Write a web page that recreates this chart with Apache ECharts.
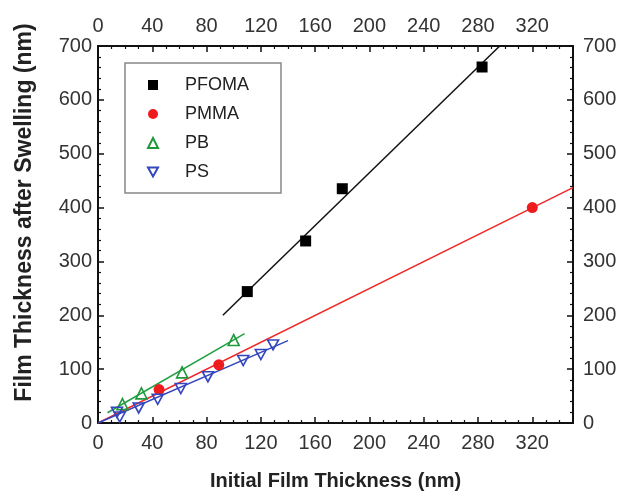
<!DOCTYPE html>
<html>
<head>
<meta charset="utf-8">
<script src="https://cdn.jsdelivr.net/npm/echarts@6/dist/echarts.min.js"></script>
<style>
html,body{margin:0;padding:0;background:#fff;}
#chart{width:621px;height:496px;}
</style>
</head>
<body>
<div id="chart"></div>
<script>
// ---- data ----
const seriesNames = ['PFOMA', 'PMMA', 'PB', 'PS'];
const pfomaX = [110, 153, 180, 283];
const pfomaY = [244, 338, 435, 661];
const pmmaX = [45, 89, 320];
const pmmaY = [62, 108, 400];
const pbX = [18, 32, 62, 100];
const pbY = [35, 55, 94, 154];
const psX = [14, 16, 30, 44, 61, 81, 107, 120, 129];
const psY = [20, 11, 28, 44, 64, 86, 116, 127, 145];
// fitted lines (end points)
const pfomaFitX = [92, 296];
const pfomaFitY = [200, 700];
const pmmaFitX = [0, 350];
const pmmaFitY = [0, 437];
const pbFitX = [7, 108];
const pbFitY = [19, 166];
const psFitX = [0, 140];
const psFitY = [0, 153];
const xTicks = [0, 40, 80, 120, 160, 200, 240, 280, 320];
const yTicks = [0, 100, 200, 300, 400, 500, 600, 700];

const zip = (xs, ys) => xs.map((x, i) => [x, ys[i]]);
const FONT = 'Arial, "Liberation Sans", Helvetica, sans-serif';

const chart = echarts.init(document.getElementById('chart'), null, {renderer: 'canvas'});

function xAxisCfg(pos) {
  return {
    type: 'value', position: pos, min: 0, max: 350, interval: 40,
    name: pos === 'bottom' ? 'Initial Film Thickness (nm)' : '',
    nameLocation: 'middle', nameGap: 48,
    nameTextStyle: {fontFamily: FONT, fontWeight: 'bold', fontSize: 20, color: '#222'},
    axisLine: {show: true, onZero: false, lineStyle: {color: '#111', width: 2}},
    axisTick: {show: true, inside: true, length: 6, lineStyle: {color: '#111', width: 1.5}},
    minorTick: {show: true, splitNumber: 4, length: 3, lineStyle: {color: '#111', width: 1.2}},
    splitLine: {show: false},
    axisLabel: {
      fontFamily: FONT, fontSize: 20, color: '#333', margin: pos === 'bottom' ? 10 : 10,
      formatter: v => xTicks.indexOf(v) >= 0 ? String(v) : ''
    }
  };
}
function yAxisCfg(pos) {
  return {
    type: 'value', position: pos, min: 0, max: 700, interval: 100,
    name: pos === 'left' ? 'Film Thickness after Swelling (nm)' : '',
    nameLocation: 'middle', nameGap: 62,
    nameTextStyle: {fontFamily: FONT, fontWeight: 'bold', fontSize: 23, color: '#222', padding: [0, 0, 0, 44]},
    axisLine: {show: true, onZero: false, lineStyle: {color: '#111', width: 2}},
    axisTick: {show: true, inside: true, length: 6, lineStyle: {color: '#111', width: 1.5}},
    minorTick: {show: true, splitNumber: 5, length: 3, lineStyle: {color: '#111', width: 1.2}},
    splitLine: {show: false},
    axisLabel: {
      fontFamily: FONT, fontSize: 20, color: '#333', margin: pos === 'left' ? 6 : 10,
      formatter: v => yTicks.indexOf(v) >= 0 ? String(v) : ''
    }
  };
}

const downTri = 'path://M0,0 L10,0 L5,9 Z';

const option = {
  animation: false,
  backgroundColor: '#fff',
  grid: {left: 98, right: 48, top: 46, bottom: 69, containLabel: false},
  xAxis: [xAxisCfg('bottom'), xAxisCfg('top')],
  yAxis: [yAxisCfg('left'), yAxisCfg('right')],
  legend: {
    data: seriesNames,
    orient: 'vertical',
    left: 125, top: 63,
    padding: [13, 32, 12, 22],
    itemGap: 11,
    itemWidth: 10, itemHeight: 10,
    borderColor: '#888', borderWidth: 1.5, borderRadius: 0,
    backgroundColor: '#fff',
    textStyle: {fontFamily: FONT, fontSize: 18, color: '#222', padding: [0, 0, 0, 22]}
  },
  series: [
    {name: 'PFOMA fit', type: 'line', data: zip(pfomaFitX, pfomaFitY), showSymbol: false, symbol: 'none',
     lineStyle: {color: '#111', width: 1.5}, z: 1, silent: true},
    {name: 'PMMA fit', type: 'line', data: zip(pmmaFitX, pmmaFitY), showSymbol: false, symbol: 'none',
     lineStyle: {color: '#f02828', width: 1.5}, z: 1, silent: true},
    {name: 'PB fit', type: 'line', data: zip(pbFitX, pbFitY), showSymbol: false, symbol: 'none',
     lineStyle: {color: '#20a040', width: 1.5}, z: 1, silent: true},
    {name: 'PS fit', type: 'line', data: zip(psFitX, psFitY), showSymbol: false, symbol: 'none',
     lineStyle: {color: '#3446be', width: 1.5}, z: 1, silent: true},
    {name: 'PFOMA', type: 'scatter', data: zip(pfomaX, pfomaY), symbol: 'rect', symbolSize: 11,
     itemStyle: {color: '#000', opacity: 1}, z: 3},
    {name: 'PMMA', type: 'scatter', data: zip(pmmaX, pmmaY), symbol: 'circle', symbolSize: 11,
     itemStyle: {color: '#ee1c1c', opacity: 1}, z: 3},
    {name: 'PB', type: 'scatter', data: zip(pbX, pbY), symbol: 'triangle', symbolSize: 11,
     itemStyle: {color: 'rgba(255,255,255,0)', borderColor: '#1e9a3c', borderWidth: 1.6, opacity: 1}, z: 3},
    {name: 'PS', type: 'scatter', data: zip(psX, psY), symbol: downTri, symbolSize: [11, 10],
     itemStyle: {color: 'rgba(255,255,255,0)', borderColor: '#3446be', borderWidth: 1.6, opacity: 1}, z: 3}
  ]
};
chart.setOption(option);
</script>
</body>
</html>
